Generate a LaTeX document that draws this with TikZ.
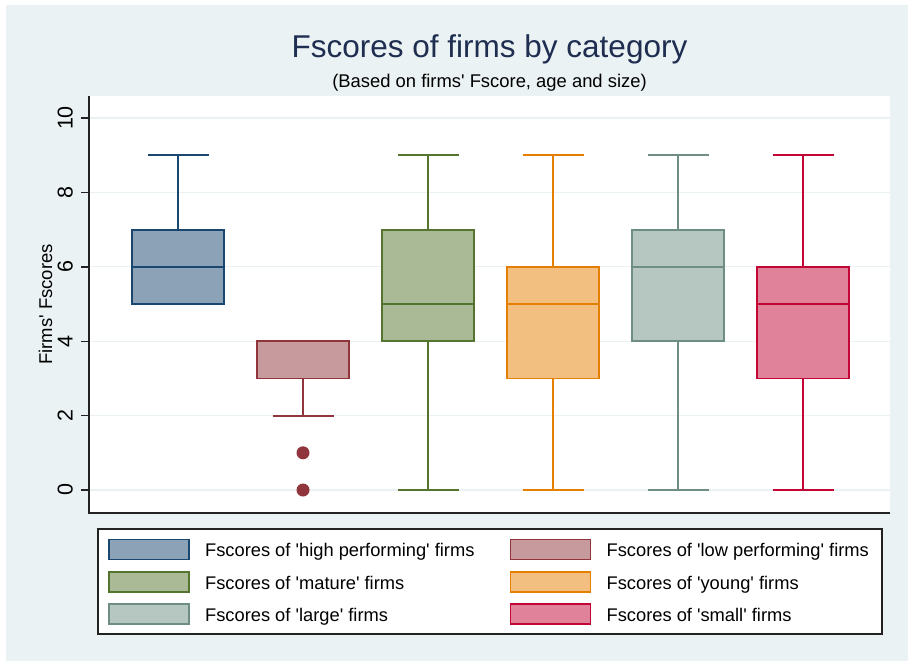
\documentclass[tikz,border=0pt]{standalone}
\usepackage{fontspec}
\setmainfont{Liberation Sans}
\definecolor{bggray}{RGB}{234,242,243}
\definecolor{titleblue}{RGB}{30,45,80}
\definecolor{axisgray}{RGB}{34,34,34}
\definecolor{hpf}{RGB}{26,71,111}
\definecolor{lpf}{RGB}{144,53,59}
\definecolor{mat}{RGB}{85,117,47}
\definecolor{yng}{RGB}{228,127,0}
\definecolor{lrg}{RGB}{110,142,132}
\definecolor{sml}{RGB}{193,5,52}
\newcommand\sq{\textquotesingle}
\begin{document}
\begin{tikzpicture}[x=1pt,y=-1pt,
    whisk/.style={line width=1.8pt},
    boxbody/.style={line width=1.8pt},
    gridline/.style={bggray,line width=1.2pt},
    axisline/.style={axisgray,line width=1.4pt},
    ticklabel/.style={rotate=90,anchor=base,inner sep=0pt,font=\fontsize{21.5}{23}\selectfont},
    legswatch/.style={draw,line width=1.8pt,minimum width=80pt,minimum height=20pt,inner sep=0pt},
    legtext/.style={anchor=base west,inner sep=0pt,font=\fontsize{18.3}{20}\selectfont}]
  \useasboundingbox (0,0) rectangle (910,661);
  \fill[white] (0,0) rectangle (910,661);
  \fill[bggray] (6,5) rectangle (908,661);
  \fill[white] (89,96) rectangle (890,513);

  % titles
  \node[anchor=base,inner sep=0pt,titleblue,font=\fontsize{31.5}{34}\selectfont] (title) at (489.5,58) {Fscores of firms by category};
  \node[anchor=base,inner sep=0pt,font=\fontsize{18.4}{20}\selectfont] (subtitle) at (489.5,88) {(Based on firms\sq\ Fscore, age and size)};

  % y axis
  \foreach \v in {0,2,...,10} {
    \draw[gridline] (89,{490-37.2*\v}) -- (890,{490-37.2*\v});
    \draw[axisline] (81,{490-37.2*\v}) -- (89,{490-37.2*\v});
    \node[ticklabel] (tick\v) at (72.5,{490-37.2*\v}) {\v};
  }
  \draw[axisline] (89,96) -- (89,513) -- (890,513);
  \node[rotate=90,anchor=base,inner sep=0pt,font=\fontsize{18.5}{20}\selectfont] (ytitle) at (52,304.5) {Firms\sq\ Fscores};

  % boxes
  \begin{scope}[shift={(0,490)},y=37.2pt]
    \foreach \cx/\lo/\qa/\md/\qb/\hi/\col in {178/5/5/6/7/9/hpf,303/2/3/3/4/4/lpf,428/0/4/5/7/9/mat,553/0/3/5/6/9/yng,678/0/4/6/7/9/lrg,803/0/3/5/6/9/sml} {
      \draw[whisk,\col] (\cx,\lo) -- (\cx,\hi);
      \draw[whisk,\col] (\cx-30.5,\lo) -- (\cx+30.5,\lo);
      \draw[whisk,\col] (\cx-30.5,\hi) -- (\cx+30.5,\hi);
      \filldraw[boxbody,draw=\col,fill=\col!50] (\cx-46,\qa) rectangle (\cx+46,\qb);
      \draw[boxbody,\col] (\cx-46,\md) -- (\cx+46,\md);
    }
    \fill[lpf] (303,1) circle (6.5pt) (303,0) circle (6.5pt);
  \end{scope}

  % legend
  \draw[axisgray,line width=1.4pt,fill=white] (98,529) rectangle (882,634);
  \foreach \sx/\ty/\col/\txt in {149/549.5/hpf/high performing,550.5/549.5/lpf/low performing,149/582/mat/mature,550.5/582/yng/young,149/614/lrg/large,550.5/614/sml/small} {
    \node[legswatch,draw=\col,fill=\col!50] (sw\col) at (\sx,\ty) {};
    \node[legtext] (tx\col) at ([xshift=15pt]sw\col.east |- 0,\ty+7.3) {Fscores of \sq\txt\sq\ firms};
  }
\end{tikzpicture}
\end{document}
